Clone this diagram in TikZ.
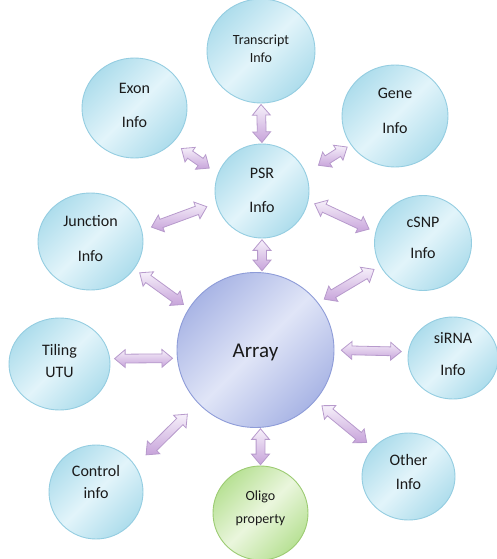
\documentclass[tikz,border=0pt]{standalone}
\usepackage{fontspec}
\setmainfont{Carlito}
\usetikzlibrary{shapes.geometric,shapes.arrows}
\definecolor{bubEdge}{HTML}{94CDE1}
\definecolor{bubMid}{HTML}{E2F4FA}
\definecolor{bubOut}{HTML}{AEDDEC}
\definecolor{arrEdge}{HTML}{8E9CD8}
\definecolor{arrMid}{HTML}{E0E5F7}
\definecolor{arrOut}{HTML}{A9B5E5}
\definecolor{olEdge}{HTML}{9CCB72}
\definecolor{olMid}{HTML}{EAF6DD}
\definecolor{olOut}{HTML}{B8E195}
\definecolor{dblEdge}{HTML}{B79ACC}
\definecolor{dblL}{HTML}{F6F0FA}
\definecolor{dblD}{HTML}{C7A3DA}
\definecolor{txtc}{HTML}{1A1A1A}
\begin{document}
\begin{tikzpicture}[x=1pt,y=-1pt,
  bub/.style={ellipse, draw=bubEdge, line width=0.9pt, top color=bubOut, bottom color=bubOut, middle color=bubMid, shading angle=45, inner sep=0pt},
  arraybub/.style={bub, draw=arrEdge, top color=arrOut, bottom color=arrOut, middle color=arrMid, shading angle=45},
  olbub/.style={bub, draw=olEdge, top color=olOut, bottom color=olOut, middle color=olMid, shading angle=45},
  txt/.style={font=\fontsize{16}{19}\selectfont, text=txtc, align=center, inner sep=0pt},
  smalltxt/.style={font=\fontsize{14}{18}\selectfont, text=txtc, align=center, inner sep=0pt},
  dbl/.style={double arrow, draw=dblEdge, line width=0.8pt, top color=dblL, bottom color=dblD, inner sep=0pt, inner ysep=4pt, minimum width=17pt, double arrow head extend=4.5pt, double arrow tip angle=80, sloped}
]
\useasboundingbox (0,0) rectangle (496,559);

\node[bub, minimum width=108, minimum height=104, label={[smalltxt,yshift=2pt]center:{Transcript\\Info}}] (T) at (261,51) {};
\node[bub, minimum width=94, minimum height=94, label={[txt,yshift=1pt]center:{PSR\\[15pt]Info}}] (P) at (262,191) {};
\node[bub, minimum width=105, minimum height=100, label={[txt,yshift=3pt]center:{Exon\\[15pt]Info}}] (E) at (134.5,108) {};
\node[bub, minimum width=106, minimum height=102, label={[txt,yshift=5pt]center:{Gene\\[16pt]Info}}] (G) at (395,116) {};
\node[bub, minimum width=105, minimum height=97, label={[txt,yshift=3pt]center:{Junction\\[16pt]Info}}] (J) at (90.5,241.5) {};
\node[bub, minimum width=97, minimum height=95, label={[txt,yshift=5pt]center:{cSNP\\[12pt]Info}}] (C) at (423,243) {};
\node[arraybub, minimum width=157, minimum height=155, label={[font=\fontsize{21}{25}\selectfont, text=txtc, yshift=-2pt]center:Array}] (A) at (255.5,350) {};
\node[bub, minimum width=101, minimum height=92, label={[txt,yshift=3pt]center:{Tiling\\[3pt]UTU}}] (Ti) at (59.5,364) {};
\node[bub, minimum width=90, minimum height=82, label={[txt,yshift=4pt]center:{siRNA\\[13pt]Info}}] (S) at (453,358) {};
\node[bub, minimum width=94, minimum height=94, label={[txt,yshift=10pt]center:{Control\\[3pt]info}}] (Co) at (96,492) {};
\node[bub, minimum width=93, minimum height=87, label={[txt,yshift=4.5pt]center:{Other\\[5pt]Info}}] (O) at (408.5,476.5) {};
\node[olbub, minimum width=95, minimum height=94, label={[smalltxt,yshift=4.5pt]center:{Oligo\\[5pt]property}}] (Ol) at (260.5,513) {};

\path (T.-90) -- (P.90) node[dbl, midway, minimum height=38pt] {};
\path (E.-42) -- (P.159) node[dbl, midway, minimum height=34pt] {};
\path (P.22) -- (G.213) node[dbl, pos=0.6, minimum height=34pt] {};
\path (J.12) -- (P.195) node[dbl, midway, minimum height=59pt] {};
\path (P.-12) -- (C.167) node[dbl, midway, minimum height=60pt] {};
\path (P.south) -- (P.south |- A.north) node[dbl, midway, minimum height=31pt] {};
\path (J.-32) -- (A.148) node[dbl, midway, minimum height=54pt] {};
\path (A.37) -- (C.-152) node[dbl, midway, minimum height=58pt] {};
\path (Ti.6) -- (A.186) node[dbl, midway, minimum height=58pt] {};
\path (A.0) -- (S.172) node[dbl, midway, minimum height=60pt] {};
\path (Co.34) -- (A.-137) node[dbl, midway, minimum height=58pt] {};
\path (A.-40) -- (O.141) node[dbl, midway, minimum height=58pt] {};
\path (Ol.north |- A.south) -- (Ol.north) node[dbl, midway, minimum height=36pt] {};
\end{tikzpicture}
\end{document}
